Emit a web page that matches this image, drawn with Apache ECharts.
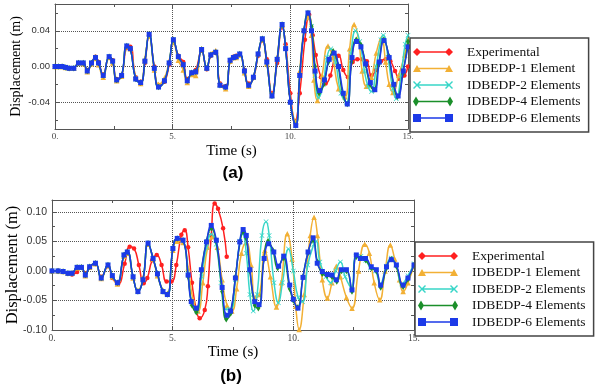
<!DOCTYPE html>
<html>
<head>
<meta charset="utf-8">
<script src="https://cdn.jsdelivr.net/npm/echarts@6/dist/echarts.min.js"></script>
<style>
  html, body { margin: 0; padding: 0; background: #fff; }
  #chart { width: 598px; height: 386px; }
</style>
</head>
<body>
<div id="chart"></div>
<script>
// series names and legend
const names = ['Experimental', 'IDBEDP-1 Element', 'IDBEDP-2 Elements', 'IDBEDP-4 Elements', 'IDBEDP-6 Elements'];
const colors = ['#ff2020', '#f2b035', '#38d6c8', '#1b8f2a', '#1c3ae8'];

// axis ticks
const yLabelsA = [-0.04, 0, 0.04];
const yMinorA = [-0.06, -0.02, 0.02, 0.06];
const yLabelsB = [-0.1, -0.05, 0, 0.05, 0.1];
const yMinorB = [-0.075, -0.025, 0.025, 0.075];

// ---------- (a) ----------
// common early part of the 2, 4 and 6 element models (they overlap)
const baseA = [[0,0],[0.15,0],[0.3,0],[0.45,-0.001],[0.6,-0.002],[0.8,-0.002],[1.0,0.004],[1.2,0.004],[1.37,-0.005],[1.55,0.004],[1.72,0.010],[1.85,0.004],[2.05,-0.010],[2.3,0.011],[2.45,0.006],[2.62,-0.015],[2.83,-0.010],[3.05,0.023],[3.2,0.020],[3.43,-0.014],[3.64,-0.018],[3.82,0.006],[4.0,0.036],[4.22,-0.002],[4.4,-0.023],[4.65,-0.016],[4.85,0.004],[5.03,0.030],[5.24,0.011],[5.45,0.002],[5.62,-0.016],[5.81,-0.007],[5.98,-0.006],[6.23,0.019],[6.45,-0.002],[6.62,0.013],[6.83,0.016],[7.01,-0.021],[7.25,-0.023],[7.44,0.007],[7.58,0.010],[7.7,0.011],[7.85,0.014],[8.05,-0.005],[8.23,-0.021],[8.43,-0.012],[8.63,0.014],[8.81,0.031],[9.0,0.005],[9.22,-0.033],[9.44,0.008],[9.65,0.047],[9.8,0.020],[10.0,-0.040],[10.23,-0.066],[10.4,-0.010],[10.58,0.040],[10.75,0.060]];
const blueTailA = [[10.9,0.040],[11.05,-0.005],[11.25,-0.027],[11.45,-0.015],[11.65,0.008],[11.86,0.015],[12.05,0.000],[12.25,-0.030],[12.42,-0.042],[12.62,0.010],[12.81,0.028],[13.0,0.022],[13.2,0.003],[13.4,-0.018],[13.59,-0.026],[13.78,0.005],[13.98,0.029],[14.2,0.010],[14.4,-0.020],[14.58,-0.033],[14.8,-0.005],[15.0,0.022]];
const greenTailA = [[10.9,0.045],[11.05,0.000],[11.22,-0.030],[11.42,-0.020],[11.62,0.005],[11.82,0.017],[12.02,0.002],[12.22,-0.030],[12.42,-0.042],[12.6,0.005],[12.8,0.030],[13.0,0.024],[13.2,0.002],[13.38,-0.020],[13.55,-0.026],[13.75,0.002],[13.97,0.030],[14.18,0.012],[14.38,-0.020],[14.55,-0.034],[14.78,-0.008],[15.0,0.028]];
const cyanTailA = [[10.9,0.045],[11.05,-0.010],[11.2,-0.035],[11.4,-0.020],[11.55,0.010],[11.72,0.020],[11.92,0.005],[12.15,-0.030],[12.38,-0.040],[12.58,0.015],[12.77,0.040],[12.95,0.028],[13.15,-0.005],[13.3,-0.022],[13.45,-0.028],[13.65,0.000],[13.85,0.030],[13.95,0.035],[14.15,0.010],[14.35,-0.025],[14.5,-0.036],[14.7,-0.010],[14.88,0.025],[15.0,0.035]];
const orangeA = [[0,0],[0.15,0],[0.3,0],[0.45,-0.001],[0.6,-0.002],[0.8,-0.002],[1.0,0.004],[1.2,0.003],[1.37,-0.006],[1.55,0.003],[1.72,0.009],[1.85,0.002],[2.05,-0.012],[2.3,0.010],[2.45,0.004],[2.62,-0.016],[2.83,-0.011],[3.05,0.022],[3.2,0.020],[3.43,-0.012],[3.64,-0.019],[3.82,0.009],[4.0,0.034],[4.22,-0.004],[4.4,-0.020],[4.65,-0.013],[4.85,0.006],[5.03,0.027],[5.24,0.007],[5.45,-0.004],[5.62,-0.018],[5.81,-0.009],[5.98,-0.010],[6.23,0.020],[6.45,-0.001],[6.62,0.014],[6.83,0.018],[7.01,-0.020],[7.25,-0.025],[7.44,0.006],[7.58,0.010],[7.7,0.010],[7.85,0.013],[8.05,-0.007],[8.23,-0.022],[8.43,-0.012],[8.63,0.014],[8.81,0.030],[9.0,0.003],[9.22,-0.032],[9.44,0.010],[9.65,0.046],[9.8,0.022],[10.0,-0.038],[10.23,-0.062],[10.4,-0.005],[10.58,0.042],[10.75,0.055],[10.9,0.035],[11.0,-0.015],[11.15,-0.038],[11.35,-0.010],[11.6,0.023],[11.8,0.010],[12.05,-0.025],[12.32,-0.034],[12.52,0.020],[12.71,0.047],[12.9,0.030],[13.05,-0.005],[13.23,-0.022],[13.45,-0.012],[13.65,0.015],[13.87,0.032],[14.05,0.005],[14.2,-0.020],[14.36,-0.029],[14.6,-0.010],[14.86,0.013],[15.0,0.030]];
const redA = [[0,0],[0.15,0],[0.3,0],[0.45,-0.001],[0.6,-0.002],[0.8,-0.002],[1.0,0.004],[1.2,0.004],[1.37,-0.004],[1.55,0.004],[1.72,0.011],[1.85,0.005],[2.05,-0.009],[2.3,0.010],[2.45,0.007],[2.62,-0.014],[2.83,-0.010],[3.05,0.021],[3.2,0.022],[3.43,-0.012],[3.64,-0.017],[3.82,0.004],[4.0,0.035],[4.22,0.000],[4.4,-0.021],[4.65,-0.017],[4.85,0.002],[5.03,0.029],[5.24,0.012],[5.45,0.005],[5.62,-0.014],[5.81,-0.008],[5.98,-0.004],[6.23,0.018],[6.45,-0.003],[6.62,0.012],[6.83,0.015],[7.01,-0.019],[7.25,-0.022],[7.44,0.006],[7.58,0.011],[7.7,0.012],[7.85,0.013],[8.05,-0.004],[8.23,-0.019],[8.43,-0.013],[8.63,0.012],[8.81,0.029],[9.0,0.008],[9.22,-0.030],[9.44,0.004],[9.65,0.044],[9.8,0.025],[10.0,-0.030],[10.2,-0.061],[10.4,-0.030],[10.62,0.030],[10.8,0.058],[10.95,0.035],[11.08,0.013],[11.3,-0.012],[11.5,-0.019],[11.7,-0.010],[11.9,0.010],[12.05,0.012],[12.25,-0.004],[12.45,-0.012],[12.65,0.005],[12.85,0.008],[13.05,0.008],[13.25,0.006],[13.45,-0.010],[13.65,-0.004],[13.85,0.006],[14.05,0.008],[14.25,0.006],[14.45,-0.005],[14.65,-0.014],[14.85,-0.010],[15.0,0.000]];

// ---------- (b) ----------
const baseB = [[0,0],[0.25,0],[0.46,-0.001],[0.66,-0.004],[0.83,-0.004],[1.04,0.006],[1.22,0.006],[1.38,-0.007],[1.56,0.007],[1.8,0.013],[2.04,-0.012],[2.32,0.010],[2.5,-0.008],[2.71,-0.020],[2.98,0.027],[3.12,0.032],[3.36,-0.010],[3.56,-0.035],[3.77,-0.015],[3.98,0.047],[4.19,0.021],[4.37,-0.005],[4.6,-0.035],[4.78,-0.040],[5.01,0.038],[5.19,0.055],[5.43,0.052]];
const blueTailB = [[5.64,-0.007],[5.77,-0.052],[5.98,-0.063],[6.19,0.002],[6.4,0.049],[6.6,0.077],[6.81,0.052],[7.05,-0.028],[7.25,-0.075],[7.4,-0.068],[7.6,-0.012],[7.78,0.049],[7.92,0.070],[8.05,0.060],[8.2,0.002],[8.4,-0.052],[8.58,-0.057],[8.79,0.021],[8.98,0.046],[9.19,0.032],[9.39,0.008],[9.6,0.025],[9.85,-0.024],[10.0,-0.048],[10.19,-0.063],[10.4,-0.011],[10.61,0.032],[10.82,0.056],[10.99,0.013],[11.2,-0.001],[11.41,-0.006],[11.6,-0.007],[11.78,-0.015],[11.99,0.002],[12.2,0.002],[12.43,-0.032],[12.61,0.027],[12.78,0.021],[12.99,0.021],[13.23,0.007],[13.44,0.002],[13.62,-0.024],[13.86,0.007],[14.06,0.019],[14.27,0.010],[14.55,-0.024],[14.75,-0.012],[15.0,0.010]];
const greenTailB = [[5.64,-0.010],[5.8,-0.058],[5.98,-0.070],[6.19,0.000],[6.4,0.050],[6.6,0.072],[6.8,0.050],[7.05,-0.035],[7.22,-0.082],[7.4,-0.072],[7.6,-0.010],[7.8,0.050],[7.92,0.066],[8.05,0.055],[8.2,0.000],[8.4,-0.058],[8.55,-0.063],[8.78,0.020],[8.95,0.050],[9.15,0.035],[9.35,0.005],[9.58,0.022],[9.85,-0.030],[10.0,-0.050],[10.17,-0.062],[10.4,-0.010],[10.6,0.030],[10.82,0.052],[11.0,0.015],[11.2,-0.005],[11.4,-0.008],[11.6,-0.010],[11.8,-0.018],[12.0,0.000],[12.2,0.000],[12.43,-0.035],[12.61,0.024],[12.8,0.022],[13.0,0.018],[13.23,0.005],[13.44,0.000],[13.62,-0.028],[13.86,0.005],[14.06,0.020],[14.27,0.008],[14.55,-0.027],[14.75,-0.014],[15.0,0.010]];
const cyanTailB = [[5.64,-0.005],[5.8,-0.055],[6.0,-0.068],[6.2,-0.010],[6.4,0.040],[6.6,0.062],[6.8,0.045],[7.0,-0.020],[7.2,-0.065],[7.4,-0.065],[7.6,-0.015],[7.78,0.050],[7.9,0.062],[8.05,0.030],[8.2,-0.040],[8.34,-0.068],[8.5,-0.040],[8.7,0.060],[8.87,0.083],[9.0,0.060],[9.2,-0.020],[9.38,-0.054],[9.55,-0.020],[9.8,0.037],[10.0,0.000],[10.2,-0.045],[10.38,-0.052],[10.6,0.010],[10.85,0.045],[10.95,0.050],[11.1,0.015],[11.35,-0.010],[11.55,-0.020],[11.75,0.000],[11.95,0.015],[12.15,-0.010],[12.4,-0.028],[12.6,0.025],[12.8,0.025],[13.0,0.018],[13.2,0.005],[13.4,0.000],[13.6,-0.022],[13.85,0.008],[14.05,0.022],[14.25,0.010],[14.5,-0.022],[14.75,-0.008],[15.0,0.012]];
const orangeB = [[0,0],[0.25,0],[0.46,-0.001],[0.66,-0.004],[0.83,-0.004],[1.04,0.005],[1.22,0.006],[1.38,-0.008],[1.56,0.006],[1.8,0.012],[2.04,-0.013],[2.32,0.009],[2.5,-0.010],[2.71,-0.022],[2.98,0.025],[3.12,0.030],[3.36,-0.012],[3.56,-0.033],[3.77,-0.012],[3.98,0.045],[4.19,0.020],[4.37,-0.008],[4.6,-0.033],[4.78,-0.038],[5.01,0.035],[5.19,0.050],[5.43,0.048],[5.64,0.005],[5.85,-0.050],[6.05,-0.068],[6.25,-0.020],[6.45,0.040],[6.65,0.058],[6.85,0.040],[7.05,-0.015],[7.25,-0.058],[7.45,-0.068],[7.65,-0.030],[7.85,0.030],[8.05,0.048],[8.25,0.010],[8.42,-0.045],[8.6,-0.040],[8.82,0.035],[9.05,-0.010],[9.3,-0.061],[9.5,-0.020],[9.75,0.063],[9.95,0.020],[10.1,-0.060],[10.24,-0.099],[10.45,-0.040],[10.7,0.060],[10.86,0.091],[11.0,0.060],[11.2,-0.015],[11.41,-0.046],[11.6,-0.020],[11.78,0.008],[11.95,-0.010],[12.2,-0.045],[12.43,-0.063],[12.7,0.000],[12.96,0.045],[13.15,0.030],[13.35,-0.020],[13.58,-0.049],[13.8,0.000],[14.02,0.044],[14.2,0.020],[14.4,-0.015],[14.55,-0.035],[14.75,-0.020],[15.0,0.010]];
const redB = [[0,0],[0.25,0],[0.46,-0.001],[0.66,-0.004],[0.83,-0.006],[1.04,-0.002],[1.22,0.006],[1.38,-0.004],[1.56,0.006],[1.8,0.012],[2.04,-0.010],[2.32,0.008],[2.5,-0.012],[2.74,-0.022],[3.01,0.012],[3.22,0.041],[3.4,0.038],[3.6,0.010],[3.8,-0.021],[3.95,-0.012],[4.15,0.018],[4.34,0.027],[4.54,0.010],[4.75,-0.018],[4.95,-0.018],[5.15,0.010],[5.36,0.061],[5.5,0.069],[5.64,0.040],[5.8,-0.020],[5.98,-0.066],[6.12,-0.080],[6.33,-0.066],[6.46,-0.026],[6.6,0.060],[6.74,0.114],[6.88,0.105],[7.09,0.072],[7.24,0.024]];

const blueA = baseA.concat(blueTailA);
const greenA = baseA.concat(greenTailA);
const cyanA = baseA.concat(cyanTailA);
const blueB = baseB.concat(blueTailB);
const greenB = baseB.concat(greenTailB);
const cyanB = baseB.concat(cyanTailB);

const xMark = 'path://M0,1L1,0L5,4L9,0L10,1L6,5L10,9L9,10L5,6L1,10L0,9L4,5Z';
const symbols = ['circle', 'triangle', xMark, 'diamond', 'rect'];
const symbolSizes = [4.5, 5.5, 5, [4, 6.5], 5];
const legendIcons = [
  'path://M0,5L4,1L8,5L4,9Z M4,4.3H36V5.7H4Z M32,5L36,1L40,5L36,9Z',
  'path://M0,8.5L4,1.5L8,8.5Z M4,4.3H36V5.7H4Z M32,8.5L36,1.5L40,8.5Z',
  'path://M0,2L1,1L4,4L7,1L8,2L5,5L8,8L7,9L4,6L1,9L0,8L3,5Z M4,4.3H36V5.7H4Z M32,2L33,1L36,4L39,1L40,2L37,5L40,8L39,9L36,6L33,9L32,8L35,5Z',
  'path://M0,5L3,0L6,5L3,10Z M3,4.3H37V5.7H3Z M34,5L37,0L40,5L37,10Z',
  'path://M0,1H8V9H0Z M4,4.3H36V5.7H4Z M32,1H40V9H32Z'
];

const dataA = [redA, orangeA, cyanA, greenA, blueA];
const dataB = [redB, orangeB, cyanB, greenB, blueB];

const frame = { color: '#555', width: 1 };
const serif = 'Liberation Serif';

function xAxes(g, fs) {
  return [{
    gridIndex: g, type: 'value', min: 0, max: 15, interval: 5,
    name: 'Time (s)', nameLocation: 'middle', nameGap: 15, nameMoveOverlap: false,
    nameTextStyle: { fontFamily: serif, fontSize: 15, color: '#000' },
    axisLine: { show: true, onZero: false, lineStyle: frame },
    axisTick: { inside: true, length: 4, lineStyle: frame },
    minorTick: { show: true, splitNumber: 2, length: 3, lineStyle: frame },
    axisLabel: { margin: 3, fontFamily: serif, fontSize: fs, color: '#444', formatter: v => v + '.' },
    splitLine: { show: true, lineStyle: { type: 'dotted', color: '#555' } }
  }, {
    gridIndex: g, type: 'value', min: 0, max: 15, interval: 5, position: 'top',
    axisLine: { show: true, onZero: false, lineStyle: frame },
    axisTick: { inside: true, length: 4, lineStyle: frame },
    minorTick: { show: true, splitNumber: 2, length: 3, lineStyle: frame },
    axisLabel: { show: false }, splitLine: { show: false }
  }];
}

function yAxes(g, min, max, labels, minor, fs, nameSize, nameGap) {
  const fmt = v => v.toFixed(2);
  return [{
    gridIndex: g, type: 'value', min, max, position: 'left',
    name: 'Displacement (m)', nameLocation: 'middle', nameGap, nameRotate: 90, nameMoveOverlap: false,
    nameTextStyle: { fontFamily: serif, fontSize: nameSize, color: '#000' },
    axisLine: { show: true, onZero: false, lineStyle: frame },
    axisTick: { inside: true, length: 4, customValues: labels, lineStyle: frame },
    axisLabel: { customValues: labels, formatter: fmt, margin: 5, fontFamily: 'Liberation Sans', fontSize: fs, color: '#333' },
    splitLine: { show: true, lineStyle: { type: 'dotted', color: '#555' } }
  }, {
    gridIndex: g, type: 'value', min, max, position: 'left',
    axisLine: { show: false, onZero: false },
    axisTick: { inside: true, length: 3, customValues: minor, lineStyle: frame },
    axisLabel: { show: false }, splitLine: { show: false }
  }, {
    gridIndex: g, type: 'value', min, max, position: 'right',
    axisLine: { show: true, onZero: false, lineStyle: frame },
    axisTick: { inside: true, length: 3, customValues: labels.concat(minor), lineStyle: frame },
    axisLabel: { show: false }, splitLine: { show: false }
  }];
}

function makeSeries(g, data) {
  return names.map((n, i) => ({
    name: n, type: 'line', xAxisIndex: 2 * g, yAxisIndex: 3 * g,
    data: data[i], smooth: 0.5, showAllSymbol: true,
    symbol: symbols[i], symbolSize: symbolSizes[i],
    lineStyle: { width: 1.5, color: colors[i] },
    itemStyle: { color: colors[i] },
    z: 2 + i
  }));
}

function legend(left, top) {
  return {
    orient: 'vertical', left, top,
    itemWidth: 40, itemHeight: 10, itemGap: 2.5,
    padding: [7, 8, 7, 3],
    backgroundColor: '#fff', borderColor: '#444', borderWidth: 1.5, borderRadius: 0,
    textStyle: { fontFamily: serif, fontSize: 13.5, color: '#111', lineHeight: 14, padding: [0, 0, 0, 9] },
    data: names.map((n, i) => ({ name: n, icon: legendIcons[i] })),
    selectedMode: false, z: 20
  };
}

const chart = echarts.init(document.getElementById('chart'), null, { renderer: 'canvas' });
chart.setOption({
  animation: false,
  backgroundColor: '#fff',
  grid: [
    { left: 55, top: 4, width: 353, height: 125, outerBoundsMode: 'none' },
    { left: 52, top: 200, width: 362, height: 130, outerBoundsMode: 'none' }
  ],
  xAxis: xAxes(0, 9).concat(xAxes(1, 9.5)),
  yAxis: yAxes(0, -0.07, 0.07, yLabelsA, yMinorA, 9.5, 14, 32)
    .concat(yAxes(1, -0.1, 0.12, yLabelsB, yMinorB, 10.5, 16.5, 31)),
  legend: [legend(410, 38), legend(415, 242)],
  series: makeSeries(0, dataA).concat(makeSeries(1, dataB)),
  graphic: [
    { type: 'text', x: 233, y: 173, style: { text: '(a)', font: 'bold 17px "Liberation Sans"', fill: '#000', textAlign: 'center', textVerticalAlign: 'middle' } },
    { type: 'text', x: 231, y: 376, style: { text: '(b)', font: 'bold 17px "Liberation Sans"', fill: '#000', textAlign: 'center', textVerticalAlign: 'middle' } }
  ]
});
</script>
</body>
</html>
